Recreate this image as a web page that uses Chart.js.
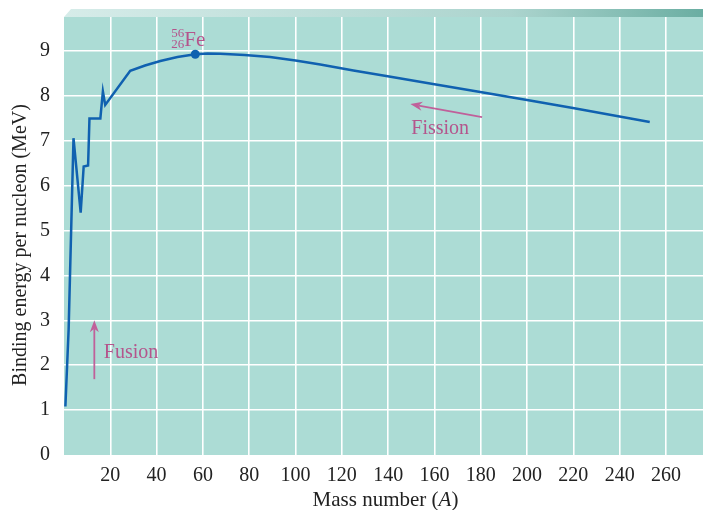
<!DOCTYPE html>
<html>
<head>
<meta charset="utf-8">
<script src="https://cdn.jsdelivr.net/npm/chart.js@4.4.1/dist/chart.umd.min.js"></script>
<style>
  body { margin: 0; background: #fff; }
</style>
</head>
<body>
<canvas id="chart" width="703" height="510"></canvas>
<script>
'use strict';
// binding energy curve
const massNumbers = [0.6, 2.0, 4.1, 7.2, 8.5, 10.4, 11.0, 15.7, 16.8, 17.8, 28.6, 35, 41.6, 49, 56.7, 62, 67.5, 78, 89, 100, 110.7, 125, 139.8, 160, 179.8, 200, 219.8, 253];
const bindingEnergies = [1.08, 2.8, 7.06, 5.4, 6.43, 6.45, 7.5, 7.5, 8.1, 7.8, 8.56, 8.68, 8.78, 8.87, 8.93, 8.945, 8.94, 8.915, 8.87, 8.79, 8.70, 8.57, 8.44, 8.26, 8.09, 7.91, 7.73, 7.42];
const ironPoint = { x: 56.7, y: 8.93 };

// axes
const xTickValues = [20, 40, 60, 80, 100, 120, 140, 160, 180, 200, 220, 240, 260];
const yTickValues = [0, 1, 2, 3, 4, 5, 6, 7, 8, 9];

const SERIF = "'Liberation Serif', 'Times New Roman', serif";
const TEAL = '#acdcd5';
const BLUE = '#1061b0';
const PINK = '#b4558c';

const curvePoints = massNumbers.map((a, i) => ({ x: a, y: bindingEnergies[i] }));

// 背景と上の帯
const backgroundPlugin = {
  id: 'plotBackground',
  beforeDraw(chart) {
    const { ctx, chartArea: a } = chart;
    ctx.save();
    ctx.fillStyle = TEAL;
    ctx.fillRect(a.left, a.top, a.right - a.left, a.bottom - a.top);
    // slanted top strip
    const g = ctx.createLinearGradient(a.left, 0, a.right, 0);
    g.addColorStop(0, '#d6ece9');
    g.addColorStop(0.7, '#acd4ce');
    g.addColorStop(1, '#6aaea2');
    ctx.fillStyle = g;
    ctx.beginPath();
    ctx.moveTo(a.left, a.top);
    ctx.lineTo(a.left + 7, a.top - 8);
    ctx.lineTo(a.right, a.top - 8);
    ctx.lineTo(a.right, a.top);
    ctx.closePath();
    ctx.fill();
    ctx.restore();
  },
};

function arrow(ctx, x1, y1, x2, y2) {
  const ang = Math.atan2(y2 - y1, x2 - x1);
  const len = 12;
  const half = 4.5;
  const c = Math.cos(ang);
  const s = Math.sin(ang);
  ctx.beginPath();
  ctx.moveTo(x1, y1);
  ctx.lineTo(x2 - c * len * 0.7, y2 - s * len * 0.7);
  ctx.stroke();
  ctx.beginPath();
  ctx.moveTo(x2, y2);
  ctx.lineTo(x2 - c * len + s * half, y2 - s * len - c * half);
  ctx.lineTo(x2 - c * len * 0.7, y2 - s * len * 0.7);
  ctx.lineTo(x2 - c * len - s * half, y2 - s * len + c * half);
  ctx.closePath();
  ctx.fill();
}

// 文字と矢印
const labelPlugin = {
  id: 'labels',
  afterDraw(chart) {
    const { ctx, chartArea: a } = chart;
    const xs = chart.scales.x;
    const ys = chart.scales.y;
    const px = v => xs.getPixelForValue(v);
    const py = v => ys.getPixelForValue(v);
    ctx.save();

    // axis titles
    ctx.fillStyle = '#222';
    ctx.textBaseline = 'middle';
    ctx.save();
    ctx.translate(21, 245);
    ctx.rotate(-Math.PI / 2);
    ctx.textAlign = 'center';
    ctx.font = '20px ' + SERIF;
    ctx.fillText('Binding energy per nucleon (MeV)', 0, 0);
    ctx.restore();

    ctx.textAlign = 'left';
    const t1 = 'Mass number (';
    ctx.font = '21px ' + SERIF;
    const w1 = ctx.measureText(t1).width;
    ctx.font = 'italic 21px ' + SERIF;
    const w2 = ctx.measureText('A').width;
    ctx.font = '21px ' + SERIF;
    const w3 = ctx.measureText(')').width;
    const tx = (a.left + a.right) / 2 + 2 - (w1 + w2 + w3) / 2;
    const ty = 500;
    ctx.fillText(t1, tx, ty);
    ctx.font = 'italic 21px ' + SERIF;
    ctx.fillText('A', tx + w1, ty);
    ctx.font = '21px ' + SERIF;
    ctx.fillText(')', tx + w1 + w2, ty);

    // 56/26 Fe
    const fx = px(ironPoint.x);
    const fy = py(ironPoint.y);
    ctx.fillStyle = PINK;
    ctx.textBaseline = 'alphabetic';
    ctx.textAlign = 'left';
    ctx.font = '21px ' + SERIF;
    ctx.fillText('Fe', fx - 11, fy - 8);
    ctx.textAlign = 'right';
    ctx.font = '13px ' + SERIF;
    ctx.fillText('56', fx - 11, fy - 17);
    ctx.fillText('26', fx - 11, fy - 6);

    // fission / fusion
    ctx.strokeStyle = '#c0609a';
    ctx.fillStyle = '#c0609a';
    ctx.lineWidth = 1.8;
    arrow(ctx, px(180.6), py(7.53), px(149.6), py(7.82));
    arrow(ctx, px(13.1), py(1.69), px(13.1), py(3.0));

    ctx.fillStyle = PINK;
    ctx.textAlign = 'left';
    ctx.textBaseline = 'middle';
    ctx.font = '20px ' + SERIF;
    ctx.fillText('Fission', px(150), py(7.27));
    ctx.fillText('Fusion', px(17.2), py(2.27));
    ctx.restore();
  },
};

const ctx = document.getElementById('chart');
new Chart(ctx, {
  type: 'line',
  data: {
    datasets: [
      {
        label: 'binding energy',
        data: curvePoints,
        borderColor: BLUE,
        borderWidth: 2.5,
        pointRadius: 0,
        tension: 0,
        order: 2,
      },
      {
        label: 'Fe-56',
        data: [ironPoint],
        showLine: false,
        pointRadius: 4.5,
        pointBackgroundColor: BLUE,
        pointBorderWidth: 0,
        order: 1,
      },
    ],
  },
  options: {
    responsive: false,
    animation: false,
    layout: { autoPadding: false, padding: { top: 17, right: 0, left: 0, bottom: 0 } },
    plugins: {
      legend: { display: false },
      tooltip: { enabled: false },
    },
    scales: {
      x: {
        type: 'linear',
        min: 0,
        max: 276,
        afterBuildTicks: scale => { scale.ticks = xTickValues.map(v => ({ value: v })); },
        afterFit: scale => {
          scale.height = 55;
          scale.paddingLeft = 0;
          scale.paddingRight = 0;
        },
        border: { display: false },
        grid: { color: '#ffffff', lineWidth: 1.6, drawTicks: false },
        ticks: {
          padding: 9,
          color: '#222',
          font: { family: SERIF, size: 20 },
          maxRotation: 0,
          autoSkip: false,
        },
      },
      y: {
        min: 0,
        max: 9.76,
        afterBuildTicks: scale => { scale.ticks = yTickValues.map(v => ({ value: v })); },
        afterFit: scale => {
          scale.width = 64;
          scale.paddingTop = 0;
          scale.paddingBottom = 0;
        },
        border: { display: false },
        grid: {
          color: c => (c.tick && c.tick.value === 0 ? 'rgba(0,0,0,0)' : '#ffffff'),
          lineWidth: 1.6,
          drawTicks: false,
        },
        ticks: {
          padding: 14,
          color: '#222',
          font: { family: SERIF, size: 20 },
        },
      },
    },
  },
  plugins: [backgroundPlugin, labelPlugin],
});
</script>
</body>
</html>
